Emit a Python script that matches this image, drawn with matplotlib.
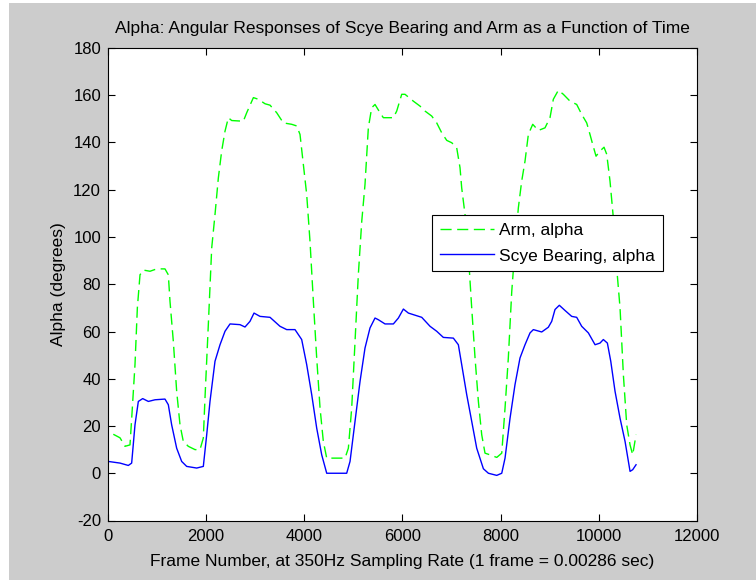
import matplotlib
matplotlib.use("Agg")
import matplotlib.pyplot as plt
from matplotlib.patches import Rectangle

# Arm, alpha (green dashed)
arm_x = [108, 245, 346, 448, 482, 550, 598, 652, 720, 856, 992, 1161, 1229, 1263,
         1331, 1399, 1467, 1534, 1636, 1773, 1874, 1942, 1976, 2044, 2113, 2180,
         2248, 2316, 2384, 2452, 2520, 2757, 2826, 2962, 3063, 3199, 3301, 3437,
         3572, 3743, 3845, 3912, 3980, 4048, 4116, 4184, 4252, 4320, 4387, 4456,
         4591, 4829, 4897, 4965, 5033, 5100, 5170, 5236, 5304, 5372, 5440, 5542,
         5610, 5814, 5882, 5984, 6051, 6221, 6357, 6459, 6595, 6697, 6799, 6901,
         7003, 7104, 7172, 7206, 7274, 7342, 7410, 7478, 7546, 7614, 7681, 7783,
         7920, 8022, 8089, 8156, 8226, 8292, 8360, 8428, 8496, 8564, 8653, 8767,
         8903, 9005, 9073, 9175, 9277, 9413, 9549, 9651, 9753, 9820, 9875, 9943,
         10024, 10106, 10161, 10228, 10296, 10364, 10432, 10500, 10568, 10636,
         10690, 10758]
arm_y = [16.5, 15, 11.4, 12, 23, 46, 70, 84, 86, 85.5, 86.5, 86.5, 84, 72.8,
         55.8, 34.7, 20.5, 13.5, 11.4, 10, 10, 14.9, 31.8, 62.9, 95.4, 109.5,
         125, 136.4, 144.8, 150.5, 149.3, 149, 152.6, 159, 158.3, 156.4, 155.8, 152.6,
         148.3, 147.7, 147, 143.4, 130.7, 118, 98, 72.8, 48.8, 27.6, 13.5, 6.4,
         6.4, 6.4, 10.6, 27.6, 55.8, 84, 106.7, 122.2, 146.2, 154.7, 156.1, 152.6,
         150.5, 150.5, 153.3, 160.4, 160.4, 157.5, 155.4, 153.3, 151.2, 148.3, 144.1, 140.9,
         139.9, 137.8, 129.3, 120.8, 109.5, 92.6, 70, 48.8, 30.4, 16.3, 8.5, 7.8,
         6.7, 8.5, 27.6, 48.8, 77, 95.4, 112.3, 123.6, 132.1, 143.4, 147.7, 145.1,
         146.2, 150.5, 158.3, 162.1, 160.4, 157.5, 156.1, 151.9, 148.3, 143.4, 139.2, 134.2,
         136.4, 138, 135, 123.6, 108, 86.9, 70, 41.7, 20.5, 12,
         7.8, 16.3]

# Scye Bearing, alpha (blue solid)
scye_x = [6, 245, 414, 482, 550, 618, 707, 822, 958, 1161, 1229, 1297, 1399,
          1501, 1603, 1807, 1942, 2011, 2078, 2180, 2282, 2384, 2486, 2689, 2791,
          2893, 2975, 3097, 3301, 3504, 3641, 3810, 3946, 4048, 4150, 4252, 4354,
          4456, 4591, 4863, 4931, 5033, 5135, 5236, 5338, 5440, 5507, 5644, 5814,
          5916, 6018, 6120, 6392, 6561, 6697, 6832, 7036, 7138, 7206, 7308, 7410,
          7512, 7648, 7750, 7920, 8022, 8089, 8191, 8292, 8394, 8496, 8598, 8666,
          8836, 8971, 9040, 9107, 9195, 9311, 9447, 9549, 9651, 9787, 9923, 10024,
          10092, 10174, 10243, 10330, 10432, 10534, 10636, 10690, 10758]
scye_y = [5, 4.3, 3.3, 4.3, 20.5, 30.4, 31.6, 30.4, 31.1, 31.4, 29, 20.5, 10.6,
          5, 2.9, 2.2, 2.9, 16.3, 30.4, 47.4, 54.4, 60.1, 63.2, 62.9, 61.9,
          64.3, 67.8, 66.4, 66, 62.2, 60.8, 60.8, 56.6, 46, 33.3, 19.1, 7.8,
          0, 0, 0, 5, 22, 38.9, 53, 61.5, 65.7, 65, 63.2, 63.2,
          65.7, 69.5, 67.8, 66, 62.2, 60.1, 57.5, 57.2, 54.4, 46, 33.3, 22,
          10.6, 1.9, 0, -0.9, 0, 6.4, 23.3, 37.5, 48.8, 54.4, 59.4, 60.8,
          59.8, 61.8, 64.3, 69.3, 71.1, 68.9, 66.4, 66, 62.2, 59.4, 54.4, 55.1,
          56.6, 55.1, 47.4, 34.7, 23.3, 13.5, 0.8, 1.5, 3.6]

x_ticks = [0, 2000, 4000, 6000, 8000, 10000, 12000]
y_ticks = [-20, 0, 20, 40, 60, 80, 100, 120, 140, 160, 180]

plt.rcParams['font.family'] = ['Liberation Sans', 'DejaVu Sans']
plt.rcParams['axes.unicode_minus'] = False

fig = plt.figure(figsize=(7.56, 5.8), dpi=100)
fig.patch.set_facecolor('white')
# gray figure background, thin white strip on the left and top
fig.patches.append(Rectangle((9 / 756, 0), 1 - 9 / 756, 577 / 580,
                             transform=fig.transFigure, facecolor='#cccccc',
                             edgecolor='none', zorder=-10))

ax = fig.add_axes([108 / 756, 59.5 / 580, 589 / 756, 472.5 / 580])
ax.set_facecolor('white')

ax.plot(arm_x, arm_y, color='#00ff00', lw=1.0, ls=(0, (8, 4)), label='Arm, alpha')
ax.plot(scye_x, scye_y, color='#0000ff', lw=1.0, label='Scye Bearing, alpha')

ax.set_xlim(0, 12000)
ax.set_ylim(-20, 180)
ax.set_xticks(x_ticks)
ax.set_yticks(y_ticks)
ax.tick_params(direction='in', length=5, width=0.8, top=True, right=True,
               labelsize=12, pad=5, colors='black')
ax.tick_params(axis='x', pad=6)
for s in ax.spines.values():
    s.set_linewidth(0.8)

ax.set_title('Alpha: Angular Responses of Scye Bearing and Arm as a Function of Time',
             fontsize=12.5, pad=11)
ax.set_xlabel('Frame Number, at 350Hz Sampling Rate (1 frame = 0.00286 sec)',
              fontsize=12.5, labelpad=7)
ax.set_ylabel('Alpha (degrees)', fontsize=12.5, labelpad=5)

leg = ax.legend(loc='upper left', bbox_to_anchor=(0.5496, 0.6466), fancybox=False,
                framealpha=1, edgecolor='black', fontsize=12.5, handlelength=3.15,
                borderpad=0.45, labelspacing=0.6, handletextpad=0.3, borderaxespad=0)
leg.get_frame().set_linewidth(0.8)

fig.savefig('out.png', dpi=100, facecolor=fig.get_facecolor())
